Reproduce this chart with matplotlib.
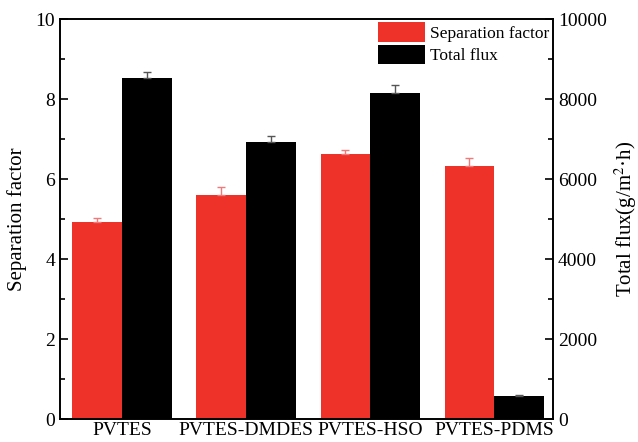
import matplotlib
matplotlib.use("Agg")
import matplotlib.pyplot as plt
from matplotlib.ticker import MultipleLocator
import numpy as np

membranes = ["PVTES", "PVTES-DMDES", "PVTES-HSO", "PVTES-PDMS"]
sep_factor = [4.92, 5.61, 6.62, 6.32]
sep_err = [0.1, 0.2, 0.1, 0.2]
total_flux = [8520, 6920, 8160, 570]
flux_err = [150, 160, 180, 40]

plt.rcParams["font.family"] = ["Liberation Serif", "DejaVu Serif"]
plt.rcParams["mathtext.fontset"] = "stix"

red = "#ee3129"
x = np.arange(len(membranes))
w = 0.4

fig = plt.figure(figsize=(6.38, 4.42), dpi=100)
ax = fig.add_axes([0.094, 0.052, 0.773, 0.905])
ax2 = ax.twinx()

b1 = ax.bar(x - w / 2, sep_factor, w, color=red, linewidth=0,
            yerr=[[0] * 4, sep_err], capsize=3,
            error_kw=dict(ecolor="#f07a7a", elinewidth=1, capthick=1),
            label="Separation factor")
b2 = ax2.bar(x + w / 2, total_flux, w, color="black", linewidth=0,
             yerr=[[0] * 4, flux_err], capsize=3,
             error_kw=dict(ecolor="#555555", elinewidth=1, capthick=1),
             label="Total flux")

ax.set_xlim(-0.5, 3.475)
ax.set_ylim(0, 10)
ax2.set_ylim(0, 10000)
ax.set_xticks(x)
ax.set_xticklabels(membranes, fontsize=14)
ax.tick_params(axis="x", length=0, pad=2)

ax.yaxis.set_major_locator(MultipleLocator(2))
ax.yaxis.set_minor_locator(MultipleLocator(1))
ax2.yaxis.set_major_locator(MultipleLocator(2000))
ax2.yaxis.set_minor_locator(MultipleLocator(1000))
for a in (ax, ax2):
    a.tick_params(axis="y", which="major", direction="in", length=6,
                  width=1.2, labelsize=14)
    a.tick_params(axis="y", which="minor", direction="in", length=3.5,
                  width=1.2)
    for s in a.spines.values():
        s.set_linewidth(1.2)

ax.set_ylabel("Separation factor", fontsize=15, labelpad=6)
ax2.set_ylabel("Total flux(g/m$^2$·h)", fontsize=15, labelpad=4)

ax.legend([b1, b2], ["Separation factor", "Total flux"], loc="upper right",
          bbox_to_anchor=(1.0, 1.0), frameon=False, fontsize=12.5,
          handlelength=2.7, handleheight=1.35, labelspacing=0.15,
          handletextpad=0.3, borderaxespad=0.1, borderpad=0.1)

fig.savefig("out.png", dpi=100)
